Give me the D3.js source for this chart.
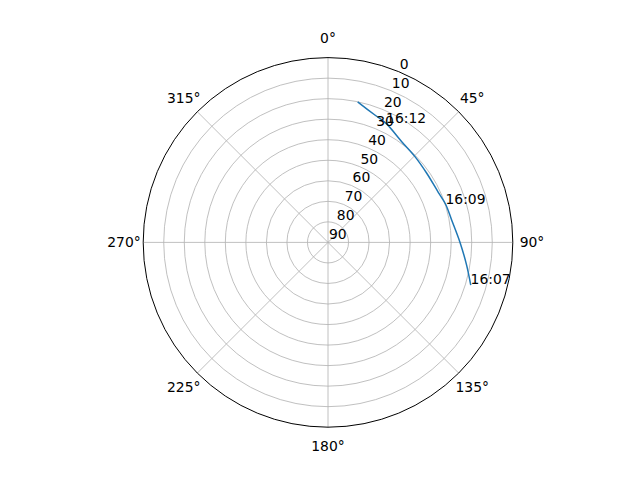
<!DOCTYPE html>
<html>
<head>
<meta charset="utf-8">
<script src="https://cdn.jsdelivr.net/npm/d3@7"></script>
<style>
  body { margin: 0; background: #fff; }
  text { font-family: "DejaVu Sans", sans-serif; font-size: 13.9px; fill: #000; }
</style>
</head>
<body>
<div id="chart"></div>
<script>
// pass track: azimuth (deg, clockwise from north) and elevation (deg)
const azimuth   = [106.4, 99.3, 90.0, 79.7, 71.9, 65.7, 55.0, 45.4, 36.2, 26.0, 20.2, 12.2];
const elevation = [17.6, 21.6, 25.7, 28.8, 29.8, 31.0, 31.3, 30.5, 29.2, 25.5, 23.9, 20.2];
const timeIdx   = [0, 4, 9];
const timeText  = ["16:07", "16:09", "16:12"];
const rTicks    = [0, 10, 20, 30, 40, 50, 60, 70, 80, 90];
const thetaTicks = [0, 45, 90, 135, 180, 225, 270, 315];

const w = 640, h = 480;
const cx = 328, cy = 242.4, R = 184.8;

const rScale = d3.scaleLinear().domain([90, 0]).range([0, R]);
const aScale = d3.scaleLinear().domain([0, 360]).range([0, 2 * Math.PI]);

const px = (az, el) => cx + rScale(el) * Math.sin(aScale(az));
const py = (az, el) => cy - rScale(el) * Math.cos(aScale(az));

const svg = d3.select("#chart").append("svg")
    .attr("width", w)
    .attr("height", h)
    .style("background-color", "#fff");

const g = svg.append("g");

// radial grid circles
g.selectAll("circle.grid")
    .data(rTicks.filter(t => t > 0 && t < 90))
    .enter()
    .append("circle")
    .attr("class", "grid")
    .attr("cx", cx).attr("cy", cy)
    .attr("r", d => rScale(d))
    .attr("fill", "none")
    .attr("stroke", "#b0b0b0")
    .attr("stroke-width", 0.8);

// angular grid lines
g.selectAll("line.spoke")
    .data(thetaTicks)
    .enter()
    .append("line")
    .attr("x1", cx).attr("y1", cy)
    .attr("x2", d => px(d, 0))
    .attr("y2", d => py(d, 0))
    .attr("stroke", "#b0b0b0")
    .attr("stroke-width", 0.8);

// the track
const line = d3.line()
    .x(i => px(azimuth[i], elevation[i]))
    .y(i => py(azimuth[i], elevation[i]))
    .curve(d3.curveCatmullRom);

g.append("path")
    .attr("d", line(d3.range(azimuth.length)))
    .attr("fill", "none")
    .attr("stroke", "#1f77b4")
    .attr("stroke-width", 1.5)
    .attr("stroke-linecap", "square");

// outer spine
g.append("circle")
    .attr("cx", cx).attr("cy", cy)
    .attr("r", R)
    .attr("fill", "none")
    .attr("stroke", "#000")
    .attr("stroke-width", 1);

// radial tick labels at 22.5 deg
g.selectAll("text.rlab")
    .data(rTicks)
    .enter()
    .append("text")
    .attr("x", d => px(22.5, d) + 1)
    .attr("y", d => py(22.5, d) - 3)
    .text(d => d);

// angle labels
g.selectAll("text.tlab")
    .data(thetaTicks)
    .enter()
    .append("text")
    .attr("x", d => cx + 204 * Math.sin(aScale(d)))
    .attr("y", d => cy - 204 * Math.cos(aScale(d)))
    .attr("text-anchor", "middle")
    .attr("dominant-baseline", "central")
    .text(d => d + "°");

// time labels
g.selectAll("text.time")
    .data(timeIdx)
    .enter()
    .append("text")
    .attr("x", (d) => px(azimuth[d], elevation[d]))
    .attr("y", (d) => py(azimuth[d], elevation[d]))
    .text((d, i) => timeText[i]);
</script>
</body>
</html>
